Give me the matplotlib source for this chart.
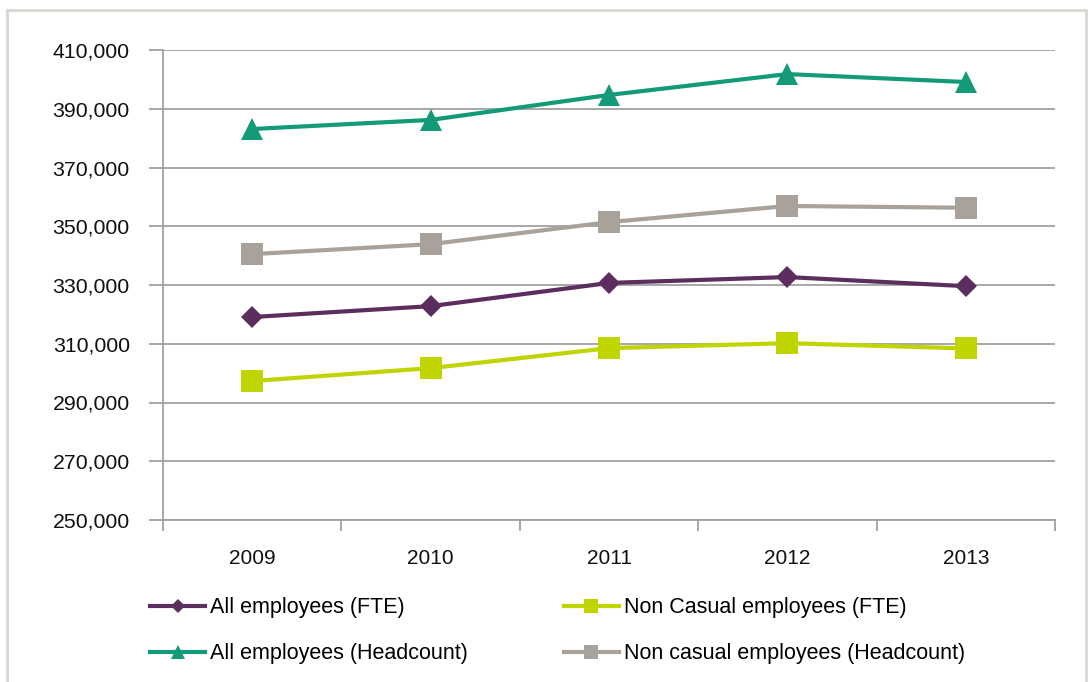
import matplotlib
matplotlib.use("Agg")
import matplotlib.pyplot as plt
from matplotlib.ticker import FuncFormatter, FixedLocator
from matplotlib.patches import Rectangle

plt.rcParams['font.family'] = ['Liberation Sans', 'DejaVu Sans']

years = ["2009", "2010", "2011", "2012", "2013"]
all_fte = [319100, 322800, 330700, 332700, 329600]
noncasual_fte = [297300, 301700, 308500, 310200, 308400]
all_head = [383100, 386200, 394700, 401800, 399100]
noncasual_head = [340500, 343900, 351400, 356900, 356300]

series = [
    ("All employees (FTE)", all_fte, "#5B2E5F", "D", 11),
    ("All employees (Headcount)", all_head, "#139A78", "^", 16),
    ("Non Casual employees (FTE)", noncasual_fte, "#C0D500", "s", 15.5),
    ("Non casual employees (Headcount)", noncasual_head, "#A8A29B", "s", 15.5),
]

fig = plt.figure(figsize=(10.92, 6.82), dpi=100)
ax = fig.add_axes([163/1092, 1-520/682, (1055-163)/1092, (520-50)/682])

x = list(range(len(years)))
for label, vals, color, mk, ms in series:
    ax.plot(x, vals, color=color, lw=3, marker=mk, markersize=ms, label=label,
            markeredgewidth=0, solid_joinstyle='round')

ax.set_xlim(-0.5, len(years) - 0.5)
ax.set_ylim(250000, 410000)
ax.set_yticks(range(250000, 410001, 20000))
ax.yaxis.set_major_formatter(FuncFormatter(lambda v, p: f"{int(v):,}"))
ax.set_xticks(x)
ax.set_xticklabels(years)
ax.xaxis.set_minor_locator(FixedLocator([i - 0.5 for i in range(len(years) + 1)]))
ax.tick_params(axis='x', which='major', length=0, pad=21, labelsize=15, labelcolor='#111111')
ax.tick_params(axis='x', which='minor', length=8, width=1.3, color='#A0A0A0', direction='out')
ax.tick_params(axis='y', length=10, width=1.3, color='#A0A0A0', pad=14, labelsize=15.3, labelcolor='#111111')
ax.grid(axis='y', color='#A0A0A0', lw=1.3)
ax.set_axisbelow(True)
for s in ['top', 'right']:
    ax.spines[s].set_visible(False)
for s in ['left', 'bottom']:
    ax.spines[s].set_color('#A0A0A0')
    ax.spines[s].set_linewidth(1.3)

fig.legend(loc='upper left', bbox_to_anchor=(131/1092, 1-578/682), ncol=2,
           frameon=False, fontsize=15.5, markerscale=0.62, handlelength=2.55,
           handletextpad=0.23, columnspacing=4.45, labelspacing=1.15)

fig.patches.append(Rectangle((7/1092, -0.01), (1086-7)/1092, 1-10/682+0.01,
                             transform=fig.transFigure, fill=False,
                             edgecolor='#D8D8D2', lw=2))

fig.savefig("out.png", dpi=100)
